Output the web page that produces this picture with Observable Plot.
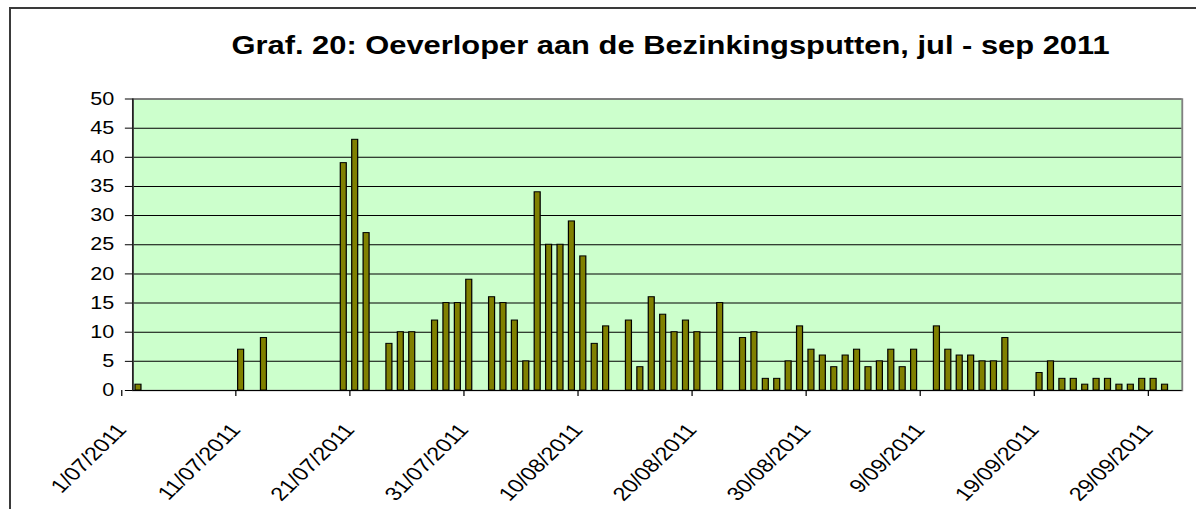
<!DOCTYPE html>
<html>
<head>
<meta charset="utf-8">
<script src="https://cdn.jsdelivr.net/npm/d3@7"></script>
<script src="https://cdn.jsdelivr.net/npm/@observablehq/plot@0.6"></script>
<style>
  html, body { margin: 0; padding: 0; background: #fff; overflow: hidden; }
  #wrap { position: relative; width: 1196px; height: 509px; overflow: hidden; }
  #border { position: absolute; left: 9px; top: 7px; width: 2000px; height: 2000px;
            border: 2px solid #3a3a3a; pointer-events: none; }
</style>
</head>
<body>
<div id="wrap"><div id="border"></div></div>
<script>
// ---- data ----
const title = "Graf. 20: Oeverloper aan de Bezinkingsputten, jul - sep 2011";
const startDate = new Date(Date.UTC(2011, 6, 1));
const endDate = new Date(Date.UTC(2011, 9, 1));
// one value per day, 1/07/2011 .. 30/09/2011
const values = [
  1, 0, 0, 0, 0, 0, 0, 0, 0, 7,      // 1-10 jul
  0, 9, 0, 0, 0, 0, 0, 0, 39, 43,    // 11-20 jul
  27, 0, 8, 10, 10, 0, 12, 15, 15, 19, // 21-30 jul
  0,                                 // 31 jul
  16, 15, 12, 5, 34, 25, 25, 29, 23, 8, // 1-10 aug
  11, 0, 12, 4, 16, 13, 10, 12, 10, 0,  // 11-20 aug
  15, 0, 9, 10, 2, 2, 5, 11, 7, 6,      // 21-30 aug
  4,                                    // 31 aug
  6, 7, 4, 5, 7, 4, 7, 0, 11, 7,        // 1-10 sep
  6, 6, 5, 5, 9, 0, 0, 3, 5, 2,         // 11-20 sep
  2, 1, 2, 2, 1, 1, 2, 2, 1, 0          // 21-30 sep
];
const tickLabels = ["1/07/2011", "11/07/2011", "21/07/2011", "31/07/2011", "10/08/2011",
                    "20/08/2011", "30/08/2011", "9/09/2011", "19/09/2011", "29/09/2011"];
const yTicks = [0, 5, 10, 15, 20, 25, 30, 35, 40, 45, 50];

// ---- build ----
const parseLabel = d3.utcParse("%d/%m/%Y");
const tickDates = tickLabels.map(s => parseLabel(s));
const days = d3.utcDay.range(startDate, endDate);
const data = days.map((d, i) => ({date: d, next: d3.utcDay.offset(d, 1), value: values[i]}))
                 .filter(d => d.value > 0);

const k = 1.235;              // horizontal stretch of the original picture
const W = 1196 / k;
const font = "'Liberation Sans', Arial, sans-serif";

const chart = Plot.plot({
  width: W,
  height: 509,
  marginLeft: 107.1,
  marginRight: W - 956.8,
  marginTop: 98.5,
  marginBottom: 119,
  style: {background: "transparent", color: "#000", fontFamily: font},
  x: {type: "utc", domain: [startDate, endDate]},
  y: {domain: [0, 50]},
  marks: [
    Plot.frame({fill: "#CCFFCC", stroke: null}),
    Plot.gridY(yTicks, {stroke: "#000", strokeOpacity: 1}),
    Plot.frame({stroke: "#808080", strokeWidth: 1.5}),
    Plot.rectY(data, {x1: "date", x2: "next", y: "value", fill: "#808000",
                      stroke: "#000", strokeWidth: 1, insetLeft: 2.2, insetRight: 2.2}),
    Plot.ruleY([0], {stroke: "#000"}),
    Plot.ruleX([startDate], {stroke: "#000"}),
    Plot.axisY({ticks: yTicks, tickSize: 6, tickPadding: 9, fontSize: 17.5, label: null}),
    Plot.axisX({ticks: tickDates, tickFormat: d3.utcFormat("%-d/%m/%Y"), tickRotate: -50,
                tickSize: 6, tickPadding: 30, fontSize: 19, dx: -9, label: null}),
    Plot.text([title], {frameAnchor: "top", dy: 53 - 98.5, dx: 10.5, lineAnchor: "bottom",
                        fontSize: 25, fontWeight: "bold", fill: "#000"})
  ]
});

chart.setAttribute("width", 1196);
chart.setAttribute("height", 509);
chart.setAttribute("preserveAspectRatio", "none");
chart.style.width = "1196px";
chart.style.height = "509px";
chart.style.maxWidth = "none";
chart.style.display = "block";
document.getElementById("wrap").insertBefore(chart, document.getElementById("border"));
</script>
</body>
</html>
